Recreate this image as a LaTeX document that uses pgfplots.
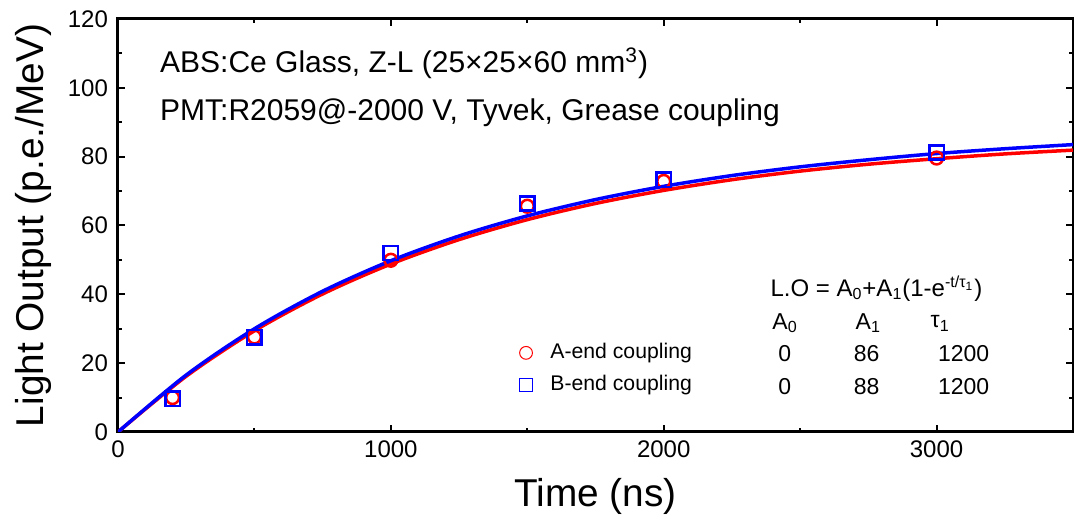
\documentclass[border=0pt]{standalone}
\usepackage{fontspec}
\setmainfont{Liberation Sans}
\usepackage{pgfplots}
\pgfplotsset{compat=1.18}
\usetikzlibrary{calc}
\begin{document}
\begin{tikzpicture}
\begin{axis}[
  scale only axis, width=477.5pt, height=206.5pt,
  xmin=0, xmax=3500, ymin=0, ymax=120,
  xtick={0,1000,2000,3000}, minor xtick={500,1500,2500},
  ytick={0,20,40,60,80,100,120}, minor ytick={10,30,50,70,90,110},
  tick align=inside, major tick length=3.5pt, minor tick length=2pt,
  axis line style={line width=1.5pt},
  tick style={line width=1pt, black},
  tick label style={font=\fontsize{12}{14}\selectfont},
  yticklabel style={xshift=-1.5pt},
  xticklabel style={yshift=-1pt},
  /pgf/number format/assume math mode=true,
  /pgf/number format/1000 sep={},
  xlabel={Time (ns)}, ylabel={Light Output (p.e./MeV)},
  label style={font=\fontsize{19.4}{22}\selectfont},
  x label style={at={(axis description cs:0.5,-0.157)}, anchor=center},
  y label style={at={(axis description cs:-0.089,0.5)}, anchor=center},
  legend style={at={(axis cs:1472,25.9)}, anchor=north west, draw=none, fill=none,
    inner sep=0pt, outer sep=0pt, row sep=6.2pt, column sep=9pt,
    nodes={inner sep=0pt, text height=7.8pt, text depth=2.2pt},
    font=\fontsize{10.6}{12}\selectfont},
  legend cell align=left,
  legend image code/.code={\draw[#1] plot coordinates {(0pt,0pt)};},
]
\addplot[red, line width=1.75pt, smooth, forget plot] coordinates {
(0,0) (250,16.2) (500,29.4) (750,40.1) (1000,48.8) (1250,55.9) (1500,61.7)
(1750,66.4) (2000,70.2) (2250,73.3) (2500,75.8) (2750,77.8) (3000,79.4)
(3250,80.8) (3500,81.9)};
\addplot[blue, line width=1.75pt, smooth, forget plot] coordinates {
(0,0) (250,16.55) (500,29.99) (750,40.90) (1000,49.76) (1250,56.95) (1500,62.79)
(1750,67.53) (2000,71.38) (2250,74.51) (2500,77.04) (2750,79.10) (3000,80.9)
(3250,82.3) (3500,83.5)};
\addplot[only marks, mark=o, red, mark size=3.2pt, line width=1.25pt,
  legend image post style={line width=0.5pt, mark size=3.2pt}] coordinates {
(200,10.0) (500,27.6) (1000,49.9) (1500,65.6) (2000,72.8) (3000,79.6)};
\addlegendentry{A-end coupling}
\addplot[only marks, mark=square, blue, mark size=3.6pt, line width=1.25pt,
  legend image post style={line width=0.5pt, mark size=3.2pt}] coordinates {
(200,9.7) (500,27.5) (1000,52.0) (1500,66.4) (2000,73.3) (3000,81.2)};
\addlegendentry{B-end coupling}

\node[anchor=west, inner sep=0pt, font=\fontsize{15}{17}\selectfont] at (axis cs:153,107.2)
  {ABS:Ce Glass, Z-L (25×25×60 mm\textsuperscript{3})};
\node[anchor=west, inner sep=0pt, font=\fontsize{15}{17}\selectfont] at (axis cs:153,92.8)
  {PMT:R2059@-2000 V, Tyvek, Grease coupling};

\node[anchor=west, inner sep=0pt, font=\fontsize{12}{14}\selectfont] at (axis cs:2390,41.7)
  {L.O = A\textsubscript{0}+A\textsubscript{1}(1-e\textsuperscript{-t/τ\textsubscript{1}})};
\node[anchor=west, inner sep=0pt, font=\fontsize{11.5}{13}\selectfont] at (axis cs:2397,31.6) {A\textsubscript{0}};
\node[anchor=west, inner sep=0pt, font=\fontsize{11.5}{13}\selectfont] at (axis cs:2702,31.6) {A\textsubscript{1}};
\node[anchor=west, inner sep=0pt, font=\fontsize{11.5}{13}\selectfont] at (axis cs:2977,31.6) {τ\textsubscript{1}};
\node[inner sep=0pt, font=\fontsize{11.5}{13}\selectfont] at (axis cs:2444,22.9) {0};
\node[inner sep=0pt, font=\fontsize{11.5}{13}\selectfont] at (axis cs:2744,22.9) {86};
\node[inner sep=0pt, font=\fontsize{11.5}{13}\selectfont] at (axis cs:3099,22.9) {1200};
\node[inner sep=0pt, font=\fontsize{11.5}{13}\selectfont] at (axis cs:2444,13.1) {0};
\node[inner sep=0pt, font=\fontsize{11.5}{13}\selectfont] at (axis cs:2744,13.1) {88};
\node[inner sep=0pt, font=\fontsize{11.5}{13}\selectfont] at (axis cs:3099,13.1) {1200};

\coordinate (bl) at (rel axis cs:0,0);
\coordinate (tr) at (rel axis cs:1,1);
\end{axis}
\pgfresetboundingbox
\path[use as bounding box] ($(bl)+(-59pt,-42.5pt)$) rectangle ($(tr)+(0.5pt,9.5pt)$);
\end{tikzpicture}
\end{document}
